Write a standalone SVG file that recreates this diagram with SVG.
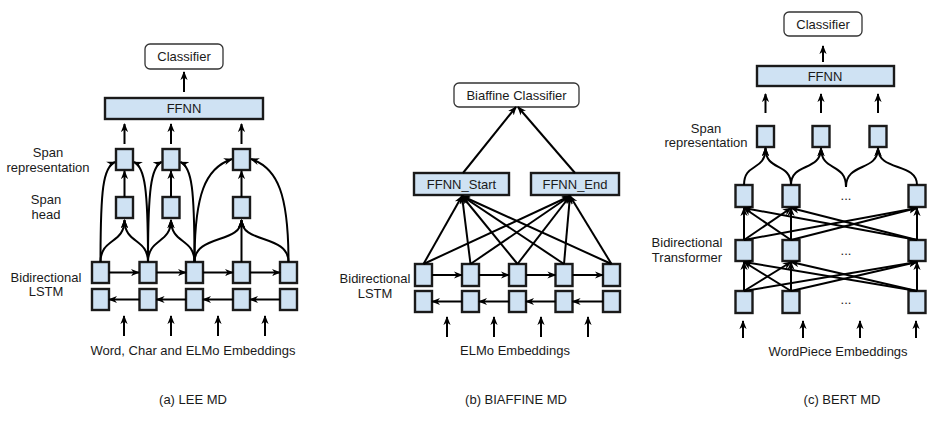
<svg xmlns="http://www.w3.org/2000/svg" width="937" height="422" viewBox="0 0 937 422">
<defs>
<marker id="ah" viewBox="0 0 10 10" refX="9" refY="5" markerWidth="9" markerHeight="9" markerUnits="userSpaceOnUse" orient="auto">
<path d="M0,1 L10,5 L0,9 L3,5 z" fill="#000"/>
</marker>
<style>
.cell{fill:#cfe2f3;stroke:#1a1a1a;stroke-width:2.4}
.rnd{fill:#fff;stroke:#333;stroke-width:1.3}
.t{font-family:"Liberation Sans",Arial,sans-serif;font-size:13px;fill:#1a1a1a;text-anchor:middle}
.c{fill:none;stroke:#000;stroke-width:2;marker-end:url(#ah)}
.l{fill:none;stroke:#000;stroke-width:2}
</style>
</defs>
<rect width="937" height="422" fill="#fff"/>

<!-- Panel A -->
<g id="a-classifier"><rect class="rnd" x="145" y="44" width="78" height="25" rx="5"/><text class="t" x="184" y="61">Classifier</text></g>
<g id="a-ffnn"><rect class="cell" x="105" y="98" width="158" height="21"/><text class="t" x="184" y="113">FFNN</text></g>
<g id="a-rep1"><rect class="cell" x="116" y="149" width="17" height="21"/></g>
<g id="a-rep2"><rect class="cell" x="162.5" y="149" width="17" height="21"/></g>
<g id="a-rep3"><rect class="cell" x="233" y="149" width="17" height="21"/></g>
<g id="a-head1"><rect class="cell" x="116" y="197" width="17" height="21"/></g>
<g id="a-head2"><rect class="cell" x="162.5" y="197" width="17" height="21"/></g>
<g id="a-head3"><rect class="cell" x="233" y="197" width="17" height="21"/></g>
<g id="a-lstm-f1"><rect class="cell" x="92" y="262" width="17" height="21"/></g>
<g id="a-lstm-f2"><rect class="cell" x="139.5" y="262" width="17" height="21"/></g>
<g id="a-lstm-f3"><rect class="cell" x="186" y="262" width="17" height="21"/></g>
<g id="a-lstm-f4"><rect class="cell" x="233" y="262" width="17" height="21"/></g>
<g id="a-lstm-f5"><rect class="cell" x="280" y="262" width="17" height="21"/></g>
<g id="a-lstm-b1"><rect class="cell" x="92" y="289" width="17" height="21"/></g>
<g id="a-lstm-b2"><rect class="cell" x="139.5" y="289" width="17" height="21"/></g>
<g id="a-lstm-b3"><rect class="cell" x="186" y="289" width="17" height="21"/></g>
<g id="a-lstm-b4"><rect class="cell" x="233" y="289" width="17" height="21"/></g>
<g id="a-lstm-b5"><rect class="cell" x="280" y="289" width="17" height="21"/></g>
<g id="a-labels">
<text class="t" x="48" y="157">Span</text><text class="t" x="48" y="172">representation</text>
<text class="t" x="46" y="204">Span</text><text class="t" x="46" y="219">head</text>
<text class="t" x="46" y="282">Bidirectional</text><text class="t" x="46" y="296">LSTM</text>
<text class="t" x="193" y="355">Word, Char and ELMo Embeddings</text>
<text class="t" x="193" y="404">(a) LEE MD</text>
</g>

<!-- Panel B -->
<g id="b-classifier"><rect class="rnd" x="454" y="83" width="125" height="24" rx="5"/><text class="t" x="516.5" y="100">Biaffine Classifier</text></g>
<g id="b-ffnn-start"><rect class="cell" x="414" y="173" width="95" height="22"/><text class="t" x="461.5" y="189">FFNN_Start</text></g>
<g id="b-ffnn-end"><rect class="cell" x="531" y="173" width="88" height="22"/><text class="t" x="575" y="189">FFNN_End</text></g>
<g id="b-lstm-f1"><rect class="cell" x="415" y="264" width="17" height="22"/></g>
<g id="b-lstm-f2"><rect class="cell" x="462" y="264" width="17" height="22"/></g>
<g id="b-lstm-f3"><rect class="cell" x="509" y="264" width="17" height="22"/></g>
<g id="b-lstm-f4"><rect class="cell" x="555.5" y="264" width="17" height="22"/></g>
<g id="b-lstm-f5"><rect class="cell" x="603" y="264" width="17" height="22"/></g>
<g id="b-lstm-b1"><rect class="cell" x="415" y="291" width="17" height="21"/></g>
<g id="b-lstm-b2"><rect class="cell" x="462" y="291" width="17" height="21"/></g>
<g id="b-lstm-b3"><rect class="cell" x="509" y="291" width="17" height="21"/></g>
<g id="b-lstm-b4"><rect class="cell" x="555.5" y="291" width="17" height="21"/></g>
<g id="b-lstm-b5"><rect class="cell" x="603" y="291" width="17" height="21"/></g>
<g id="b-labels">
<text class="t" x="375" y="283">Bidirectional</text><text class="t" x="375" y="298">LSTM</text>
<text class="t" x="515" y="355">ELMo Embeddings</text>
<text class="t" x="516" y="404">(b) BIAFFINE MD</text>
</g>

<!-- Panel C -->
<g id="c-classifier"><rect class="rnd" x="784" y="12" width="78" height="24" rx="5"/><text class="t" x="823" y="29">Classifier</text></g>
<g id="c-ffnn"><rect class="cell" x="757" y="66" width="137" height="20"/><text class="t" x="825" y="81">FFNN</text></g>
<g id="c-rep1"><rect class="cell" x="757" y="126" width="17" height="21"/></g>
<g id="c-rep2"><rect class="cell" x="812.5" y="126" width="17" height="21"/></g>
<g id="c-rep3"><rect class="cell" x="869.5" y="126" width="17" height="21"/></g>
<g id="c-t1-1"><rect class="cell" x="735.5" y="185" width="17" height="22"/></g>
<g id="c-t1-2"><rect class="cell" x="782.5" y="185" width="17" height="22"/></g>
<g id="c-t1-n"><rect class="cell" x="908.5" y="185" width="17" height="22"/></g>
<g id="c-t2-1"><rect class="cell" x="735.5" y="240" width="17" height="21"/></g>
<g id="c-t2-2"><rect class="cell" x="782.5" y="240" width="17" height="21"/></g>
<g id="c-t2-n"><rect class="cell" x="908.5" y="240" width="17" height="21"/></g>
<g id="c-t3-1"><rect class="cell" x="735.5" y="291" width="17" height="22"/></g>
<g id="c-t3-2"><rect class="cell" x="782.5" y="291" width="17" height="22"/></g>
<g id="c-t3-n"><rect class="cell" x="908.5" y="291" width="17" height="22"/></g>
<g id="c-labels">
<text class="t" x="706" y="133">Span</text><text class="t" x="706" y="147">representation</text>
<text class="t" x="687" y="247">Bidirectional</text><text class="t" x="687" y="262">Transformer</text>
<text class="t" x="846" y="200">...</text>
<text class="t" x="846" y="255">...</text>
<text class="t" x="846" y="304">...</text>
<text class="t" x="838" y="356">WordPiece Embeddings</text>
<text class="t" x="842" y="404">(c) BERT MD</text>
</g>

<g id="connectors">
<!-- A -->
<path class="c" d="M184,92 L184,72"/>
<path class="c" d="M124.5,144 L124.5,124"/>
<path class="c" d="M171,144 L171,124"/>
<path class="c" d="M241.5,144 L241.5,124"/>
<path class="c" d="M124.5,197 L124.5,171"/>
<path class="c" d="M171,197 L171,171"/>
<path class="c" d="M241.5,197 L241.5,171"/>
<path class="c" d="M100.5,262 C100.5,238 124.5,244 124.5,220"/>
<path class="c" d="M148,262 C148,238 124.5,244 124.5,220"/>
<path class="c" d="M148,262 C148,238 171,244 171,220"/>
<path class="c" d="M194.5,262 C194.5,238 171,244 171,220"/>
<path class="c" d="M194.5,262 C194.5,234 241.5,244 241.5,220"/>
<path class="c" d="M241.5,262 L241.5,220"/>
<path class="c" d="M288.5,262 C288.5,234 241.5,244 241.5,220"/>
<path class="c" d="M100.5,262 C100.5,190 103,167 115,162"/>
<path class="c" d="M148,262 C148,190 145,167 134,162"/>
<path class="c" d="M148,262 C148,190 151,167 161.5,162"/>
<path class="c" d="M194.5,262 C194.5,190 192,167 180.5,162"/>
<path class="c" d="M194.5,262 C194.5,195 205,168 232,159"/>
<path class="c" d="M288.5,262 C288.5,195 278,168 251,159"/>
<path class="c" d="M109,272.5 L139,272.5"/>
<path class="c" d="M156.5,272.5 L186,272.5"/>
<path class="c" d="M203,272.5 L233,272.5"/>
<path class="c" d="M250,272.5 L280,272.5"/>
<path class="c" d="M139.5,299.5 L109,299.5"/>
<path class="c" d="M186,299.5 L156.5,299.5"/>
<path class="c" d="M233,299.5 L203,299.5"/>
<path class="c" d="M280,299.5 L250,299.5"/>
<path class="c" d="M124,336 L124,316"/>
<path class="c" d="M171,336 L171,316"/>
<path class="c" d="M218,336 L218,316"/>
<path class="c" d="M265,336 L265,316"/>
<!-- B -->
<path class="c" d="M463,173 L516,107"/>
<path class="c" d="M575,173 L518,107"/>
<path class="c" d="M423.5,264 L462,196"/>
<path class="c" d="M470.5,264 L462,196"/>
<path class="c" d="M517.5,264 L462,196"/>
<path class="c" d="M564,264 L462,196"/>
<path class="c" d="M611.5,264 L462,196"/>
<path class="c" d="M423.5,264 L570,196"/>
<path class="c" d="M470.5,264 L570,196"/>
<path class="c" d="M517.5,264 L570,196"/>
<path class="c" d="M564,264 L570,196"/>
<path class="c" d="M611.5,264 L570,196"/>
<path class="c" d="M432,275 L462,275"/>
<path class="c" d="M479,275 L509,275"/>
<path class="c" d="M526,275 L555.5,275"/>
<path class="c" d="M572.5,275 L603,275"/>
<path class="c" d="M462,301.5 L432,301.5"/>
<path class="c" d="M509,301.5 L479,301.5"/>
<path class="c" d="M555.5,301.5 L526,301.5"/>
<path class="c" d="M603,301.5 L572.5,301.5"/>
<path class="c" d="M447,337 L447,317"/>
<path class="c" d="M494,337 L494,317"/>
<path class="c" d="M541,337 L541,317"/>
<path class="c" d="M588,337 L588,317"/>
<!-- C -->
<path class="c" d="M823,62 L823,46"/>
<path class="c" d="M765.5,113 L765.5,94"/>
<path class="c" d="M821,113 L821,94"/>
<path class="c" d="M878,113 L878,94"/>
<path class="c" d="M744,185 C744,162 765.5,172 765.5,148"/>
<path class="c" d="M791,185 C791,162 765.5,172 765.5,148"/>
<path class="c" d="M791,185 C791,162 821,172 821,148"/>
<path class="c" d="M846,187 C846,162 821,172 821,148"/>
<path class="c" d="M846,187 C846,162 878,172 878,148"/>
<path class="c" d="M917,185 C917,162 878,172 878,148"/>
<path class="c" d="M744,240 L744,208"/>
<path class="c" d="M744,240 L791,208"/>
<path class="c" d="M744,240 L917,208"/>
<path class="c" d="M791,240 L744,208"/>
<path class="c" d="M791,240 L791,208"/>
<path class="c" d="M791,240 L917,208"/>
<path class="c" d="M917,240 L744,208"/>
<path class="c" d="M917,240 L791,208"/>
<path class="c" d="M917,240 L917,208"/>
<path class="c" d="M744,291 L744,262"/>
<path class="c" d="M744,291 L791,262"/>
<path class="c" d="M744,291 L917,262"/>
<path class="c" d="M791,291 L744,262"/>
<path class="c" d="M791,291 L791,262"/>
<path class="c" d="M791,291 L917,262"/>
<path class="c" d="M917,291 L744,262"/>
<path class="c" d="M917,291 L791,262"/>
<path class="c" d="M917,291 L917,262"/>
<path class="c" d="M743,338 L743,321"/>
<path class="c" d="M803,338 L803,321"/>
<path class="c" d="M860,338 L860,321"/>
<path class="c" d="M916,338 L916,321"/>
</g>
</svg>
